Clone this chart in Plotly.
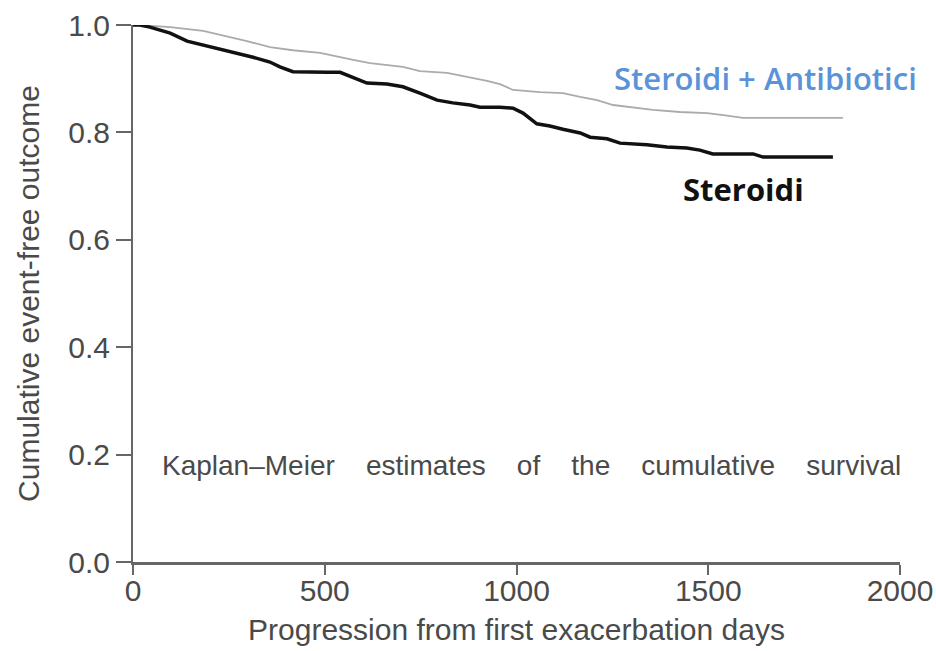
import plotly.graph_objects as go

# Steroidi (black curve)
days_ster = [0, 18, 44, 97, 141, 183, 227, 271, 313, 357, 383, 417, 454, 506,
             540, 574, 610, 662, 704, 748, 793, 834, 879, 905, 957, 991, 1017,
             1053, 1087, 1121, 1166, 1192, 1236, 1270, 1340, 1392, 1444, 1478,
             1512, 1565, 1617, 1643, 1825]
surv_ster = [1.0, 1.0, 0.996, 0.985, 0.970, 0.963, 0.955, 0.948, 0.940, 0.931,
             0.922, 0.913, 0.912, 0.912, 0.912, 0.903, 0.892, 0.890, 0.885,
             0.873, 0.860, 0.855, 0.851, 0.847, 0.847, 0.845, 0.836, 0.816,
             0.812, 0.806, 0.799, 0.791, 0.788, 0.780, 0.777, 0.773, 0.771,
             0.767, 0.760, 0.760, 0.760, 0.754, 0.754]

# Steroidi + Antibiotici (grey curve)
days_sa = [0, 18, 97, 183, 297, 357, 417, 488, 574, 618, 704, 748, 819, 879,
           923, 957, 991, 1061, 1121, 1166, 1210, 1252, 1296, 1356, 1426, 1497,
           1539, 1591, 1851]
surv_sa = [1.0, 1.0, 0.996, 0.989, 0.970, 0.959, 0.953, 0.948, 0.935, 0.929,
           0.922, 0.914, 0.911, 0.903, 0.896, 0.890, 0.879, 0.875, 0.873, 0.866,
           0.860, 0.851, 0.847, 0.842, 0.838, 0.836, 0.832, 0.827, 0.827]

x_ticks = [0, 500, 1000, 1500, 2000]
y_ticks = [0.0, 0.2, 0.4, 0.6, 0.8, 1.0]
y_tick_labels = ["0.0", "0.2", "0.4", "0.6", "0.8", "1.0"]

GREY_TXT = "#4a4a4a"
FONT = "Liberation Sans, Arial, sans-serif"

fig = go.Figure()
fig.add_trace(go.Scatter(x=days_sa, y=surv_sa, mode="lines",
                         line=dict(color="#ababab", width=1.8),
                         name="Steroidi + Antibiotici", cliponaxis=False))
fig.add_trace(go.Scatter(x=days_ster, y=surv_ster, mode="lines",
                         line=dict(color="#111111", width=3.5),
                         name="Steroidi", cliponaxis=False))

sp = "\u00a0" * 4
fig.add_annotation(x=0.035, y=0.18, xref="x domain", yref="y", xanchor="left",
                   yanchor="middle", showarrow=False,
                   text=sp.join(["Kaplan–Meier", "estimates", "of", "the",
                                 "cumulative", "survival"]),
                   font=dict(family=FONT, size=28, color=GREY_TXT))
fig.add_annotation(x=1648, y=0.902, xref="x", yref="y", showarrow=False,
                   text="Steroidi + Antibiotici",
                   font=dict(family="Open Sans, sans-serif", size=31,
                             color="#5b93d8", weight=600))
fig.add_annotation(x=1593, y=0.695, xref="x", yref="y", showarrow=False,
                   text="<b>Steroidi</b>",
                   font=dict(family="Open Sans, sans-serif", size=31,
                             color="#111111"))

fig.update_layout(
    width=936, height=651,
    margin=dict(l=133, r=36, t=25, b=89),
    plot_bgcolor="white", paper_bgcolor="white",
    showlegend=False,
    font=dict(family=FONT, size=30, color=GREY_TXT),
)
fig.update_xaxes(range=[0, 2000], tickvals=x_ticks, ticks="outside", ticklen=10,
                 tickwidth=2, tickcolor="#666", showline=True, linecolor="#666",
                 linewidth=2.5, showgrid=False, zeroline=False, automargin=False,
                 ticklabelstandoff=-10,
                 tickfont=dict(size=30, color=GREY_TXT),
                 title=dict(text="Progression from first exacerbation days",
                            font=dict(size=30, color=GREY_TXT), standoff=14))
fig.update_yaxes(range=[0, 1], tickvals=y_ticks, ticktext=y_tick_labels,
                 ticks="outside", ticklen=15, tickwidth=2, tickcolor="#666",
                 showline=True, linecolor="#666", linewidth=2, showgrid=False,
                 zeroline=False, automargin=False,
                 tickfont=dict(size=30, color=GREY_TXT),
                 title=dict(text="Cumulative event-free outcome",
                            font=dict(size=30, color=GREY_TXT), standoff=20))

fig.write_html("out.html")
